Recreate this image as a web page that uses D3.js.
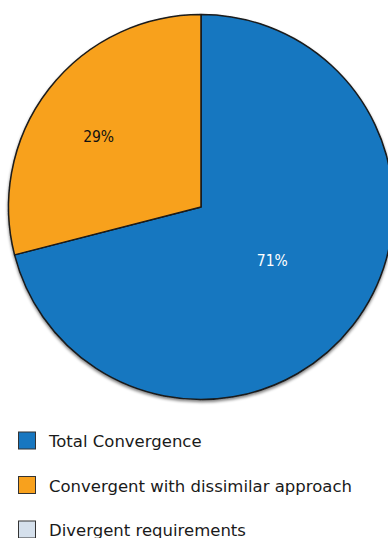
<!DOCTYPE html>
<html><head><meta charset="utf-8">
<script src="https://cdn.jsdelivr.net/npm/d3@7"></script>
<style>html,body{margin:0;padding:0;background:#fff;overflow:hidden}</style>
</head><body>
<svg id="c" width="388" height="538"></svg>
<script>
const categories = ["Total Convergence", "Convergent with dissimilar approach", "Divergent requirements"];
const values = [71, 29, 0];
const colors = ["#1877c0", "#f8a11d", "#d5e0ec"];
const labelTexts = ["71%", "29%", ""];
const labelColors = ["#ffffff", "#111111", "#111111"];

// layout settings (not data)
const labelRadiusFactor = [0.462, 0.66];
const labelNudge = [[1, -1], [-2, 7]];

const svg = d3.select("#c");
const cx = 201, cy = 207, R = 192.5;

const defs = svg.append("defs");
const f = defs.append("filter").attr("id","sh").attr("x","-10%").attr("y","-10%").attr("width","120%").attr("height","125%");
f.append("feGaussianBlur").attr("in","SourceAlpha").attr("stdDeviation",1.5).attr("result","b");
f.append("feOffset").attr("in","b").attr("dx",0).attr("dy",2).attr("result","o");
f.append("feComponentTransfer").attr("in","o").attr("result","o2").append("feFuncA").attr("type","linear").attr("slope",0.5);
const m = f.append("feMerge"); m.append("feMergeNode").attr("in","o2"); m.append("feMergeNode").attr("in","SourceGraphic");

const pie = d3.pie().sort(null).value(d => d)(values);
const arc = d3.arc().innerRadius(0).outerRadius(R);
const g = svg.append("g").attr("transform", `translate(${cx},${cy})`).attr("filter","url(#sh)");
g.selectAll("path").data(pie.filter(d => d.value > 0)).join("path")
  .attr("d", arc)
  .attr("fill", d => colors[d.index])
  .attr("stroke", "#1a1a1a").attr("stroke-width", 1.5).attr("stroke-linejoin","round");

const lg = svg.append("g").attr("transform", `translate(${cx},${cy})`);
pie.filter(d => d.value > 0).forEach(d => {
  const la = d3.arc().innerRadius(0).outerRadius(2 * R * labelRadiusFactor[d.index]);
  const [x, y] = la.centroid(d);
  lg.append("text").attr("x", x + labelNudge[d.index][0]).attr("y", y + labelNudge[d.index][1]).attr("dy","0.36em")
    .attr("text-anchor","middle").attr("font-family","'DejaVu Sans Condensed', 'DejaVu Sans'").attr("font-size",15.5)
    .attr("fill", labelColors[d.index]).text(labelTexts[d.index]);
});

const leg = svg.append("g");
categories.forEach((c, i) => {
  const base = 447 + i * 44.5;
  leg.append("rect").attr("x", 18.5).attr("y", base - 15).attr("width", 17).attr("height", 17)
    .attr("fill", colors[i]).attr("stroke", "#333").attr("stroke-width", 1);
  leg.append("text").attr("x", 49).attr("y", base)
    .attr("font-family","'DejaVu Sans'").attr("font-size",16.5).attr("fill","#1a1a1a").text(c);
});
</script>
</body></html>
